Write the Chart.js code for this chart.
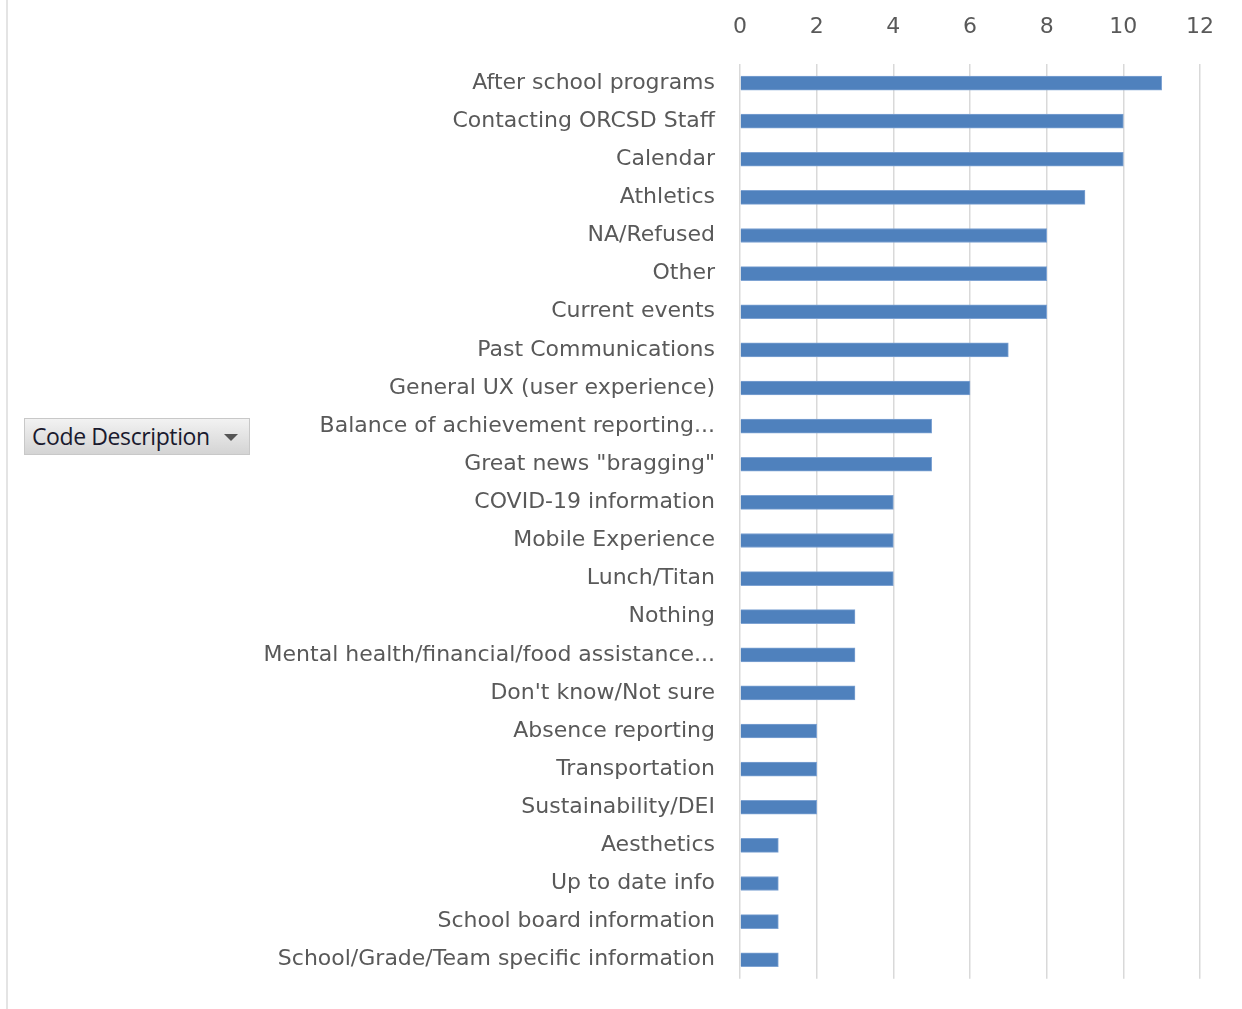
<!DOCTYPE html>
<html>
<head>
<meta charset="utf-8">
<script src="https://cdn.jsdelivr.net/npm/chart.js@4.4.1/dist/chart.umd.min.js"></script>
<style>
  body { margin: 0; background: #fff; }
  #wrap { position: relative; width: 1242px; height: 1009px; }
  #edge { position: absolute; left: 6px; top: 0; width: 2px; height: 1009px; background: #e4e4e4; }
  #btn {
    position: absolute; left: 24px; top: 418px; width: 226px; height: 37px;
    background: linear-gradient(#f2f2f2, #d4d4d4); border: 1px solid #c8c8c8; box-sizing: border-box;
    font: 23px "Open Sans", sans-serif; color: #1a1a2e; letter-spacing: -0.4px;
    line-height: 35px; padding-left: 7px;
  }
  #btn span { position: absolute; left: 199px; top: 15px; width: 0; height: 0;
    border-left: 7px solid transparent; border-right: 7px solid transparent; border-top: 7px solid #555; }
</style>
</head>
<body>
<div id="wrap">
  <canvas id="c" width="1242" height="1009"></canvas>
  <div id="edge"></div>
  <div id="btn">Code Description<span></span></div>
</div>
<script>
const categories = [
  'After school programs', 'Contacting ORCSD Staff', 'Calendar', 'Athletics', 'NA/Refused',
  'Other', 'Current events', 'Past Communications', 'General UX (user experience)',
  'Balance of achievement reporting...', 'Great news "bragging"', 'COVID-19 information',
  'Mobile Experience', 'Lunch/Titan', 'Nothing', 'Mental health/financial/food assistance...',
  "Don't know/Not sure", 'Absence reporting', 'Transportation', 'Sustainability/DEI',
  'Aesthetics', 'Up to date info', 'School board information', 'School/Grade/Team specific information'
];
const counts = [11, 10, 10, 9, 8, 8, 8, 7, 6, 5, 5, 4, 4, 4, 3, 3, 3, 2, 2, 2, 1, 1, 1, 1];
const xTicks = [0, 2, 4, 6, 8, 10, 12];

const font = { family: '"DejaVu Sans", sans-serif', size: 22 };

new Chart(document.getElementById('c'), {
  type: 'bar',
  data: {
    labels: categories,
    datasets: [{
      data: counts,
      backgroundColor: '#4f81bd',
      borderColor: '#7ea3d3',
      borderWidth: 1,
      barThickness: 14
    }]
  },
  options: {
    indexAxis: 'y',
    responsive: false,
    animation: false,
    layout: { padding: { left: 0, right: 42, top: 0, bottom: 30 } },
    plugins: { legend: { display: false }, tooltip: { enabled: false } },
    scales: {
      x: {
        position: 'top',
        min: 0, max: 12,
        afterBuildTicks: s => { s.ticks = xTicks.map(v => ({ value: v })); },
        afterFit: s => { s.height = 64; },
        grid: { color: '#d9d9d9', lineWidth: 1.5, drawTicks: false },
        border: { display: false },
        ticks: { color: '#595959', font: font, padding: 24 }
      },
      y: {
        afterFit: s => { s.width = 740; },
        grid: { display: false },
        border: { display: false },
        ticks: { color: '#595959', font: font, padding: 17, autoSkip: false }
      }
    }
  }
});
</script>
</body>
</html>
